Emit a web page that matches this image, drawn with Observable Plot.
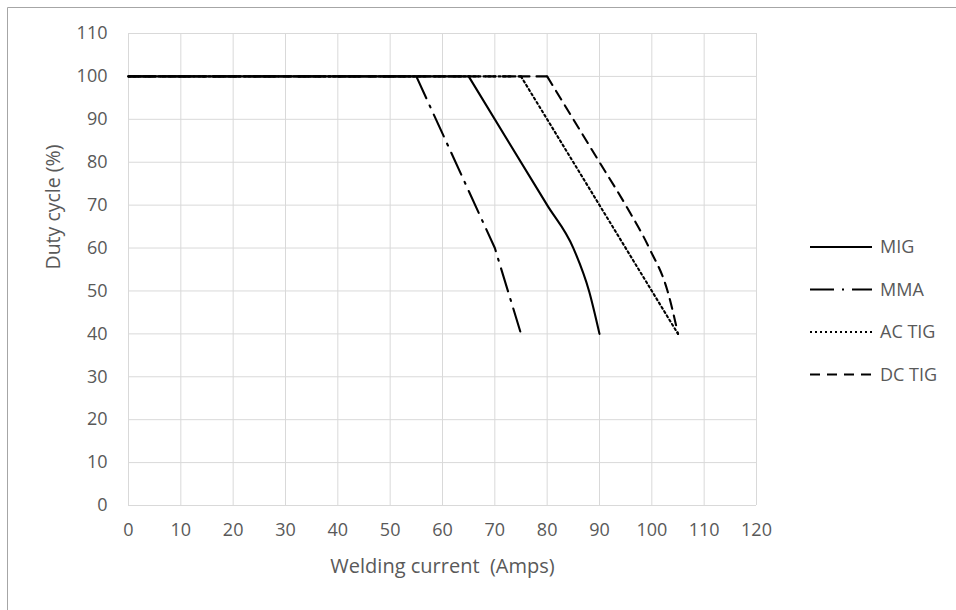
<!DOCTYPE html>
<html>
<head>
<meta charset="utf-8">
<script src="https://cdn.jsdelivr.net/npm/d3@7"></script>
<script src="https://cdn.jsdelivr.net/npm/@observablehq/plot@0.6"></script>
<style>
  html, body { margin: 0; padding: 0; background: #fff; }
  #chart { position: relative; width: 956px; height: 610px; }
</style>
</head>
<body>
<div id="chart"></div>
<script>
// ---- data ----
const seriesNames = ["MIG", "MMA", "AC TIG", "DC TIG"];
const migX = [0, 65, 80, 85, 88, 90];
const migY = [100, 100, 70, 60, 50, 40];
const mmaX = [0, 55, 70, 75];
const mmaY = [100, 100, 60, 40];
const acTigX = [0, 75, 90, 100, 105];
const acTigY = [100, 100, 70, 50, 40];
const dcTigX = [0, 80, 90, 95, 99.5, 103, 105];
const dcTigY = [100, 100, 80, 70, 60, 50, 40];
const xTicks = [0, 10, 20, 30, 40, 50, 60, 70, 80, 90, 100, 110, 120];
const yTicks = [0, 10, 20, 30, 40, 50, 60, 70, 80, 90, 100, 110];
const xTitle = "Welding current  (Amps)";
const yTitle = "Duty cycle (%)";

const styles = {
  "MIG": "none",
  "MMA": "24,8,2,8",
  "AC TIG": "2,3",
  "DC TIG": "10,7"
};
const curves = {
  "MIG": "monotone-x",
  "MMA": "linear",
  "AC TIG": "linear",
  "DC TIG": "monotone-x"
};

const toRows = (name, xs, ys) => xs.map((x, i) => ({series: name, x, y: ys[i]}));
const seriesData = {
  "MIG": toRows("MIG", migX, migY),
  "MMA": toRows("MMA", mmaX, mmaY),
  "AC TIG": toRows("AC TIG", acTigX, acTigY),
  "DC TIG": toRows("DC TIG", dcTigX, dcTigY)
};
// split each series into its flat plateau and its falling part
function split(rows) {
  let k = 0;
  while (k + 1 < rows.length && rows[k + 1].y === rows[0].y) k++;
  return {flat: rows.slice(0, k + 1), drop: rows.slice(k)};
}

const textColor = "#595959";
const font = "Open Sans, sans-serif";

const drawOrder = ["DC TIG", "AC TIG", "MMA", "MIG"];

const lineMarks = [];
drawOrder.forEach(name => {
  const {flat, drop} = split(seriesData[name]);
  const opts = {x: "x", y: "y", stroke: "#000", strokeWidth: 2.1, strokeDasharray: styles[name], strokeLinejoin: "round"};
  lineMarks.push(Plot.line(flat, opts));
  lineMarks.push(Plot.line(drop, {...opts, curve: curves[name]}));
});

const plot = Plot.plot({
  width: 956,
  height: 610,
  marginLeft: 128,
  marginRight: 200,
  marginTop: 33,
  marginBottom: 105,
  style: {fontFamily: font, fontSize: "18px", color: textColor, background: "#fff"},
  x: {domain: [0, 120]},
  y: {domain: [0, 110]},
  marks: [
    Plot.ruleX(xTicks, {stroke: "#d9d9d9", strokeWidth: 1}),
    Plot.ruleY(yTicks, {stroke: "#d9d9d9", strokeWidth: 1}),
    Plot.axisX(xTicks, {tickSize: 0, tickPadding: 18, label: null, fill: textColor, fontSize: 18}),
    Plot.axisY(yTicks, {tickSize: 0, tickPadding: 21, label: null, fill: textColor, fontSize: 18}),
    ...lineMarks,
    Plot.text([xTitle], {frameAnchor: "bottom", dy: 67, fill: textColor, fontSize: 20}),
    Plot.text([yTitle], {frameAnchor: "left", dx: -75, rotate: -90, fill: textColor, fontSize: 19.5})
  ]
});

document.getElementById("chart").appendChild(plot);

// outer border (top & left) and legend
const svg = d3.select(plot);
svg.append("line").attr("x1", 7.5).attr("x2", 956).attr("y1", 7.5).attr("y2", 7.5)
  .attr("stroke", "#a6a6a6").attr("stroke-width", 1);
svg.append("line").attr("x1", 7.5).attr("x2", 7.5).attr("y1", 7.5).attr("y2", 610)
  .attr("stroke", "#a6a6a6").attr("stroke-width", 1);

const legend = svg.append("g").attr("text-anchor", "start");
seriesNames.forEach((name, i) => {
  const y = 247 + i * 42.5;
  legend.append("line")
    .attr("x1", 810).attr("x2", 872).attr("y1", y).attr("y2", y)
    .attr("stroke", "#000").attr("stroke-width", 2.1)
    .attr("stroke-dasharray", styles[name]);
  legend.append("text")
    .attr("x", 880).attr("y", y).attr("dy", "0.35em")
    .attr("text-anchor", "start")
    .attr("fill", textColor).attr("font-family", font).attr("font-size", 18)
    .text(name);
});
</script>
</body>
</html>
